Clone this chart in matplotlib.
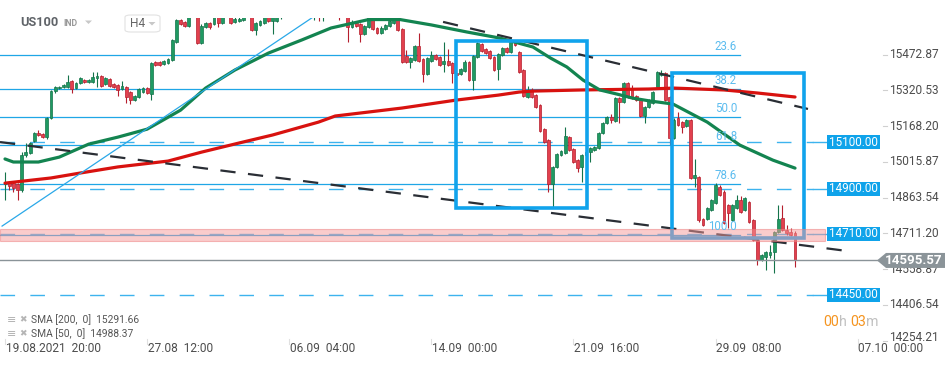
import matplotlib
matplotlib.use('Agg')
import matplotlib.pyplot as plt
from matplotlib.patches import Rectangle, Polygon, FancyBboxPatch
from matplotlib.transforms import blended_transform_factory
import numpy as np

plt.rcParams['font.family'] = ['Roboto', 'DejaVu Sans']
plt.rcParams['lines.scale_dashes'] = False

# ---------------- data (US100, H4) ----------------
opens = [14921, 14930, 14925, 14921, 14895, 15045, 15053, 15104, 15138, 15134,
         15121, 15202, 15317, 15330, 15334, 15334, 15360, 15330, 15351, 15364,
         15356, 15356, 15373, 15381, 15347, 15368, 15347, 15343, 15326, 15334,
         15313, 15279, 15292, 15313, 15330, 15305, 15441, 15441, 15432, 15437,
         15449, 15526, 15620, 15612, 15595, 15646, 15663, 15522, 15590, 15607,
         15603, 15637, 15607, 15646, 15637, 15612, 15616, 15620, 15646, 15654,
         15577, 15599, 15607, 15637, 15616, 15616, 15637, 15671, 15688, 15680,
         15697, 15684, 15705, 15692, 15671, 15688, 15671, 15680, 15692, 15680,
         15667, 15646, 15654, 15590, 15607, 15603, 15560, 15590, 15637, 15586,
         15565, 15582, 15595, 15607, 15637, 15582, 15466, 15441, 15449, 15509,
         15454, 15390, 15445, 15471, 15462, 15432, 15445, 15437, 15394, 15390,
         15402, 15441, 15364, 15462, 15518, 15496, 15488, 15462, 15411, 15471,
         15501, 15484, 15526, 15484, 15407, 15292, 15322, 15300, 15258, 15155,
         15108, 14921, 14993, 15045, 15053, 15121, 15070, 15023, 14993, 15045,
         15057, 15066, 15074, 15138, 15181, 15206, 15189, 15287, 15270, 15351,
         15330, 15296, 15279, 15211, 15249, 15266, 15334, 15385, 15394, 15292,
         15117, 15202, 15185, 15168, 15194, 14947, 14951, 14772, 14772, 14810,
         14840, 14908, 14887, 14832, 14768, 14819, 14853, 14810, 14844, 14768,
         14682, 14597, 14610, 14618, 14631, 14716, 14776, 14725, 14716, 14712]
closes = [14930, 14912, 14904, 14895, 15045, 15057, 15096, 15138, 15130, 15121,
          15202, 15317, 15334, 15334, 15343, 15356, 15326, 15351, 15373, 15356,
          15364, 15377, 15381, 15339, 15373, 15339, 15334, 15322, 15339, 15292,
          15279, 15296, 15326, 15330, 15309, 15437, 15428, 15428, 15445, 15454,
          15535, 15620, 15603, 15595, 15646, 15671, 15522, 15595, 15607, 15590,
          15637, 15607, 15637, 15663, 15607, 15624, 15624, 15637, 15663, 15577,
          15607, 15616, 15637, 15616, 15637, 15637, 15671, 15688, 15680, 15697,
          15684, 15705, 15692, 15680, 15688, 15671, 15680, 15692, 15680, 15667,
          15646, 15654, 15590, 15612, 15595, 15560, 15595, 15637, 15582, 15565,
          15586, 15599, 15616, 15637, 15577, 15441, 15441, 15458, 15509, 15445,
          15390, 15458, 15471, 15454, 15428, 15445, 15428, 15394, 15385, 15411,
          15441, 15364, 15466, 15522, 15488, 15479, 15458, 15407, 15475, 15501,
          15484, 15526, 15514, 15398, 15296, 15322, 15292, 15249, 15147, 15100,
          14921, 14993, 15049, 15062, 15125, 15066, 15015, 14989, 15045, 15057,
          15074, 15079, 15138, 15181, 15206, 15194, 15287, 15270, 15351, 15292,
          15287, 15279, 15211, 15249, 15279, 15313, 15398, 15394, 15279, 15117,
          15194, 15172, 15164, 15194, 14947, 14959, 14768, 14746, 14819, 14853,
          14917, 14874, 14755, 14797, 14832, 14853, 14802, 14861, 14759, 14682,
          14597, 14618, 14631, 14631, 14716, 14772, 14725, 14712, 14704, 14595.57]
highs = [14972, 14934, 14930, 14925, 15057, 15096, 15100, 15142, 15151, 15138,
         15206, 15322, 15339, 15339, 15347, 15385, 15364, 15356, 15377, 15368,
         15368, 15398, 15398, 15385, 15377, 15373, 15351, 15347, 15360, 15339,
         15317, 15300, 15330, 15334, 15334, 15441, 15445, 15445, 15449, 15458,
         15539, 15624, 15624, 15616, 15663, 15697, 15671, 15603, 15612, 15612,
         15646, 15654, 15646, 15680, 15646, 15633, 15633, 15654, 15680, 15663,
         15612, 15620, 15646, 15646, 15646, 15646, 15684, 15705, 15705, 15714,
         15714, 15722, 15718, 15705, 15701, 15697, 15692, 15705, 15705, 15692,
         15684, 15671, 15671, 15620, 15616, 15607, 15599, 15654, 15646, 15590,
         15595, 15603, 15620, 15646, 15646, 15586, 15492, 15462, 15514, 15565,
         15458, 15462, 15488, 15475, 15466, 15526, 15496, 15441, 15407, 15415,
         15449, 15445, 15471, 15526, 15522, 15501, 15492, 15466, 15479, 15505,
         15505, 15531, 15531, 15488, 15411, 15339, 15330, 15305, 15262, 15160,
         15113, 14998, 15053, 15066, 15164, 15125, 15074, 15028, 15049, 15062,
         15079, 15083, 15142, 15185, 15211, 15219, 15292, 15292, 15356, 15356,
         15343, 15300, 15283, 15253, 15283, 15317, 15402, 15407, 15398, 15296,
         15202, 15228, 15189, 15198, 15198, 15028, 14955, 14776, 14823, 14857,
         14925, 14917, 14895, 14836, 14836, 14874, 14870, 14866, 14849, 14772,
         14687, 14623, 14636, 14661, 14721, 14832, 14832, 14746, 14734, 14721]
lows = [14853, 14895, 14887, 14853, 14887, 15036, 15049, 15100, 15125, 15117,
        15113, 15198, 15309, 15326, 15330, 15330, 15309, 15326, 15347, 15351,
        15351, 15351, 15334, 15334, 15343, 15334, 15330, 15296, 15322, 15266,
        15262, 15275, 15287, 15309, 15305, 15279, 15424, 15424, 15428, 15432,
        15445, 15522, 15599, 15590, 15590, 15637, 15518, 15518, 15586, 15582,
        15599, 15590, 15603, 15633, 15603, 15607, 15612, 15616, 15633, 15573,
        15556, 15595, 15603, 15612, 15560, 15612, 15624, 15663, 15667, 15671,
        15671, 15675, 15680, 15667, 15620, 15616, 15616, 15663, 15667, 15654,
        15620, 15633, 15526, 15586, 15590, 15526, 15556, 15586, 15577, 15560,
        15560, 15577, 15590, 15603, 15573, 15437, 15437, 15415, 15445, 15441,
        15356, 15385, 15441, 15449, 15424, 15398, 15424, 15351, 15377, 15385,
        15398, 15360, 15322, 15458, 15484, 15475, 15454, 15402, 15364, 15466,
        15479, 15479, 15509, 15394, 15292, 15287, 15287, 15245, 15142, 15096,
        14887, 14823, 14989, 15040, 15049, 15062, 15011, 14972, 14930, 15040,
        15015, 15062, 15070, 15134, 15177, 15181, 15185, 15181, 15266, 15287,
        15283, 15275, 15206, 15181, 15245, 15262, 15330, 15381, 15275, 15087,
        15113, 15168, 15138, 15164, 14942, 14908, 14759, 14742, 14768, 14806,
        14836, 14870, 14751, 14734, 14763, 14814, 14797, 14806, 14755, 14678,
        14576, 14593, 14555, 14606, 14542, 14712, 14721, 14704, 14699, 14567]

sma200_idx = [0, 11, 18, 27, 39, 47, 56, 64, 75, 79, 95, 108, 118, 123, 126,
              138, 154, 160, 172, 180, 189]
sma200 = [14925, 14947, 14968, 14994, 15019, 15057, 15096, 15130, 15185, 15211,
          15245, 15279, 15300, 15313, 15317, 15322, 15326, 15330, 15322, 15309,
          15292]
sma50_idx = [0, 2, 8, 13, 20, 27, 34, 42, 48, 55, 63, 71, 78, 87, 94.5, 102,
             110.5, 118.4, 126.3, 130.5, 134.4, 138.3, 142.3, 146.5, 150.2,
             154.3, 159.8, 168, 175.8, 183.7, 189]
sma50 = [15028, 15015, 15015, 15036, 15091, 15121, 15155, 15236, 15330, 15407,
         15479, 15535, 15586, 15622, 15622, 15599, 15569, 15543, 15505, 15458,
         15420, 15364, 15322, 15304, 15287, 15275, 15262, 15185, 15087, 15023,
         14989]

fib_0, fib_100 = 15710, 14705
fib_ratios = [23.6, 38.2, 50.0, 61.8, 78.6, 100.0]
levels = [15100.00, 14900.00, 14710.00, 14450.00]
last_price = 14595.57
zone_low, zone_high = 14678, 14730
ytick_vals = [15472.87, 15320.53, 15168.20, 15015.87, 14863.54, 14711.20,
              14558.87, 14406.54, 14254.21]
date_pos = [0, 34, 68, 102, 136, 170, 204]
date_labels = ['19.08.2021  20:00', '27.08  12:00', '06.09  04:00', '14.09  00:00',
               '21.09  16:00', '29.09  08:00', '07.10  00:00']
trend_upper_x, trend_upper_y = [104.8, 192.1], [15612, 15241]
trend_lower_x, trend_lower_y = [-1.2, 201.4], [15100, 14636]
trend_blue_x, trend_blue_y = [-0.7, 73.4], [14742, 15629]
box1 = (107.8, 139.2, 14818, 15531)
box2 = (159.6, 191.1, 14691, 15394)
sma200_label = 'SMA [200,  0]  15291.66'
sma50_label = 'SMA [50,  0]  14988.37'

# ---------------- figure ----------------
W, H = 950, 367
fig = plt.figure(figsize=(W / 100, H / 100), dpi=100)
PX_L, PX_R, PX_T, PX_B = 0, 880, 18, 343
ax = fig.add_axes([PX_L / W, (H - PX_B) / H, (PX_R - PX_L) / W, (PX_B - PX_T) / H])
x0px, dxpx = 5.0, 4.18
ax.set_xlim((PX_L - x0px) / dxpx, (PX_R - x0px) / dxpx)
ax.set_ylim(14243.8, 15628.6)
ax.axis('off')
xl = ax.get_xlim()

def idx_of_px(px):
    return (px - x0px) / dxpx

ppx = (15628.6 - 14243.8) / (PX_B - PX_T)  # price per pixel

# fib lines
FIB_C = '#1fa6e6'
fib_end = idx_of_px(740)
for r in fib_ratios:
    p = fib_0 - (fib_0 - fib_100) * r / 100.0
    ax.plot([xl[0], fib_end], [p, p], color=FIB_C, lw=0.9, zorder=1)
    ax.text(idx_of_px(737), p + 8.5 * ppx, f'{r:.1f}', color='#5bbcef', fontsize=8.3,
            ha='right', va='center', zorder=7)

# level dashed lines
LVL_C = '#3db3ee'
for lv in levels:
    ax.plot([xl[0], idx_of_px(813)], [lv, lv], color=LVL_C, lw=1.0,
            dashes=(10.5, 11), zorder=1)
    ax.plot([idx_of_px(813), idx_of_px(828)], [lv, lv], color=LVL_C, lw=1.0, zorder=1)

# candles
xs = np.arange(len(closes))
up = [c >= o for o, c in zip(opens, closes)]
G_FILL, G_EDGE = '#1f9a62', '#14734a'
R_FILL, R_EDGE = '#e2404e', '#b61e2d'
fills = [G_FILL if u else R_FILL for u in up]
edges = [G_EDGE if u else R_EDGE for u in up]
ax.vlines(xs, lows, highs, colors=edges, lw=0.8, zorder=2)
bottoms = [min(o, c) for o, c in zip(opens, closes)]
heights = [max(abs(c - o), 4.0) for o, c in zip(opens, closes)]
ax.bar(xs, heights, bottom=bottoms, width=0.68, color=fills, edgecolor=edges,
       linewidth=0.5, zorder=2.5)

# SMAs
ax.plot(sma200_idx, sma200, color='#d8120f', lw=2.3, solid_capstyle='round', zorder=3)
ax.plot(sma50_idx, sma50, color='#138450', lw=2.3, solid_capstyle='round', zorder=3)

# trend lines
ax.plot(trend_blue_x, trend_blue_y, color='#2aa8e8', lw=0.9, zorder=3)
ax.plot(trend_upper_x, trend_upper_y, color='#2a2e35', lw=1.6, dashes=(11, 9), zorder=4)
ax.plot(trend_lower_x, trend_lower_y, color='#2a2e35', lw=1.6, dashes=(11, 9), zorder=4)

# boxes
for (a, b, lo, hi) in (box1, box2):
    ax.add_patch(Rectangle((a, lo), b - a, hi - lo, fill=False, edgecolor='#10a3ec',
                           lw=2.6, zorder=5))

# pink zone
ax.add_patch(Rectangle((xl[0], zone_low), idx_of_px(825) - xl[0], zone_high - zone_low,
                       facecolor='#f79a9a', edgecolor='#ee7d7d', lw=0.8, alpha=0.5,
                       zorder=6))

# last price line
ax.plot([xl[0], idx_of_px(878)], [last_price, last_price], color='#8a9398', lw=1.0, zorder=6)

# right side labels
tr = blended_transform_factory(fig.transFigure, ax.transData)
def fx(px):
    return px / W

for k, v in enumerate(ytick_vals):
    ypos = v if k < len(ytick_vals) - 1 else v + 3.5 * ppx
    ax.plot([fx(883), fx(887)], [v, v], color='#d0d0d0', lw=0.8, transform=tr,
            clip_on=False)
    ax.text(fx(889), ypos, f'{v:.2f}', color='#4d4d4d', fontsize=8.6, ha='left',
            va='center', transform=tr, clip_on=False)

for lv in levels:
    ax.add_patch(Rectangle((fx(827), lv - 7 * ppx), fx(880) - fx(827), 14 * ppx,
                           facecolor='#0fa3ea', edgecolor='none', transform=tr,
                           clip_on=False, zorder=8))
    ax.text(fx(853.5), lv, f'{lv:.2f}', color='white', fontsize=8.4, ha='center',
            va='center', transform=tr, clip_on=False, zorder=9)

poly = [(fx(877), last_price), (fx(886), last_price + 7.5 * ppx),
        (fx(945), last_price + 7.5 * ppx), (fx(945), last_price - 7.5 * ppx),
        (fx(886), last_price - 7.5 * ppx)]
ax.add_patch(Polygon(poly, closed=True, facecolor='#8b9499', edgecolor='none',
                     transform=tr, clip_on=False, zorder=8))
ax.text(fx(914), last_price, f'{last_price:.2f}', color='white', fontsize=9.6,
        fontweight='bold', ha='center', va='center', transform=tr, clip_on=False,
        zorder=9)

# date labels
for p, lab in zip(date_pos, date_labels):
    xpx = x0px + p * dxpx
    fig.add_artist(plt.Line2D([fx(xpx), fx(xpx)], [1 - 339 / H, 1 - 344 / H],
                              color='#e0e0e0', lw=0.8))
    fig.text(fx(xpx + 0.5), 1 - 349 / H, lab, color='#4d4d4d', fontsize=8.6,
             ha='left', va='center')

# header
fig.text(20 / W, 1 - 23 / H, 'US100', color='#5f6368', fontsize=9.2,
         fontweight='bold', ha='left', va='center')
fig.text(63 / W, 1 - 23.5 / H, 'IND', color='#9a9a9a', fontsize=6.3,
         fontweight='bold', ha='left', va='center')
fig.add_artist(Polygon([(85 / W, 1 - 20.5 / H), (92 / W, 1 - 20.5 / H),
                        (88.5 / W, 1 - 24 / H)], closed=True, facecolor='#c8c8c8',
                       edgecolor='none', transform=fig.transFigure))
fig.add_artist(FancyBboxPatch((125 / W, 1 - 32 / H), 35 / W, 17 / H,
                              boxstyle='round,pad=0,rounding_size=0.006',
                              facecolor='white', edgecolor='#e2e2e2', lw=0.8,
                              transform=fig.transFigure))
fig.text(130 / W, 1 - 23.5 / H, 'H4', color='#666666', fontsize=8.6,
         ha='left', va='center')
fig.add_artist(Polygon([(148.5 / W, 1 - 22 / H), (155.5 / W, 1 - 22 / H),
                        (152 / W, 1 - 25.5 / H)], closed=True, facecolor='#c8c8c8',
                       edgecolor='none', transform=fig.transFigure))

# indicator legend
for ypx, lab in ((320, sma200_label), (334, sma50_label)):
    fig.text(7 / W, 1 - ypx / H, '≡', color='#b0b0b0', fontsize=8,
             ha='left', va='center', family=['DejaVu Sans'])
    fig.text(19 / W, 1 - ypx / H, '✖', color='#b5b5b5', fontsize=6.5,
             ha='left', va='center', family=['DejaVu Sans'])
    fig.text(31 / W, 1 - ypx / H, lab, color='#555555', fontsize=7.4,
             ha='left', va='center')

# countdown
cd_y = 1 - 322.5 / H
t1 = fig.text(823 / W, cd_y, '00', color='#f5941f', fontsize=10.2, ha='left', va='center')
fig.canvas.draw()
r = fig.canvas.get_renderer()
def right_of(t):
    bb = t.get_window_extent(r)
    return bb.x1 / W
t2 = fig.text(right_of(t1), cd_y, 'h ', color='#c0c0c0', fontsize=10.2, ha='left', va='center')
t3 = fig.text(right_of(t2), cd_y, '03', color='#f5941f', fontsize=10.2, ha='left', va='center')
t4 = fig.text(right_of(t3), cd_y, 'm', color='#c0c0c0', fontsize=10.2, ha='left', va='center')

fig.savefig('out.png', dpi=100, facecolor='white')
